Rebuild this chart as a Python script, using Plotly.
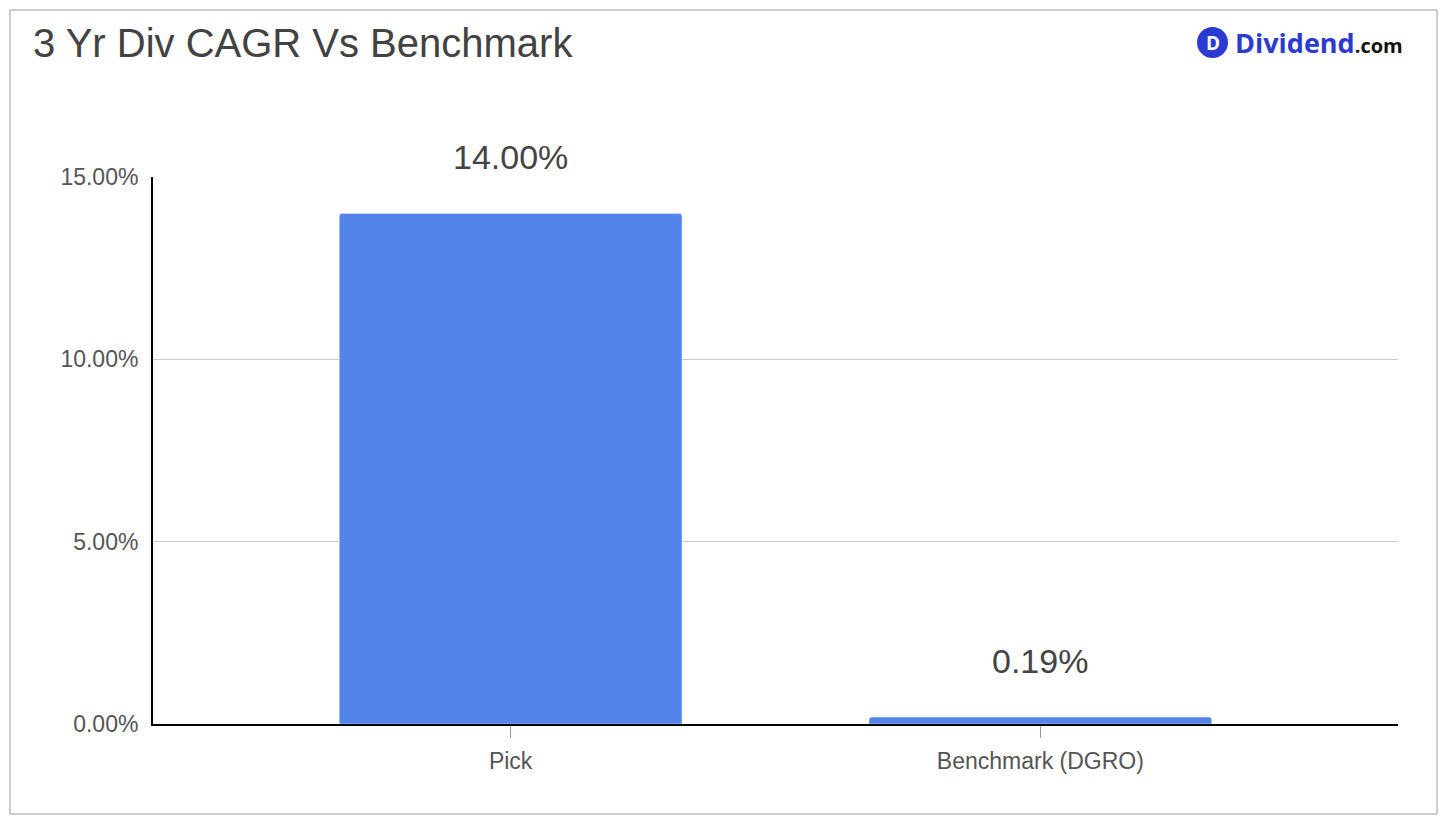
import plotly.graph_objects as go

# chart data
categories = ['Pick', 'Benchmark (DGRO)']
cagr_pct = [14.00, 0.19]
y_ticks = [0, 5, 10, 15]
y_tick_labels = ['0.00%', '5.00%', '10.00%', '15.00%']

# page puts the figure at (8, 8), so work in screen pixels and shift
OFF = 8
W, H = 1452 - 2 * OFF, 828 - 2 * OFF
plot_l, plot_r, plot_t, plot_b = 153, 1398, 177, 724
L, T = plot_l - OFF, plot_t - OFF
R, B = W - (plot_r - OFF), H - (plot_b - OFF)
pw, ph = plot_r - plot_l, plot_b - plot_t


def px(x):
    return (x - plot_l) / pw


def py(y):
    return (plot_b - y) / ph


bar_blue = '#5384ea'
logo_blue = '#2b3bd1'

fig = go.Figure()
fig.add_trace(go.Bar(x=categories, y=cagr_pct, marker=dict(color=bar_blue, cornerradius=3),
                     width=0.647, hoverinfo='skip'))

# value labels above bars
for c, v in zip(categories, cagr_pct):
    fig.add_annotation(x=c, y=v, text='%.2f%%' % v, showarrow=False, yshift=56,
                       font=dict(size=34, color='#444444'))

fig.update_layout(
    width=W, height=H, margin=dict(l=L, r=R, t=T, b=B),
    paper_bgcolor='white', plot_bgcolor='white', showlegend=False,
    font=dict(family='Liberation Sans, Arial, sans-serif'),
    xaxis=dict(range=[-0.675, 1.675], showline=True, linecolor='#000000', linewidth=2,
               ticks='outside', ticklen=12, tickcolor='#999999', tickwidth=1,
               tickfont=dict(size=23, color='#555555'), ticklabelstandoff=3),
    yaxis=dict(range=[0, 15], tickvals=y_ticks, ticktext=y_tick_labels,
               showline=True, linecolor='#000000', linewidth=2,
               gridcolor='#cccccc', gridwidth=1, zeroline=False,
               tickfont=dict(size=23, color='#555555'), ticklabelstandoff=8),
)

# outer border
fig.add_shape(type='rect', xref='paper', yref='paper', x0=px(10), x1=px(1437), y0=py(814), y1=py(10),
              line=dict(color='#9e9e9e', width=1), layer='below')

# title
fig.add_annotation(xref='paper', yref='paper', x=px(31), y=py(43), xanchor='left', yanchor='middle',
                   text='3 Yr Div CAGR Vs Benchmark', showarrow=False,
                   font=dict(size=40, color='#424242'))

# logo
fig.add_shape(type='circle', xref='paper', yref='paper', x0=px(1197), x1=px(1228), y0=py(58), y1=py(27),
              fillcolor=logo_blue, line=dict(color=logo_blue, width=0))
fig.add_annotation(xref='paper', yref='paper', x=px(1213), y=py(43), xanchor='center', yanchor='middle',
                   text='<b>D</b>', showarrow=False, font=dict(size=19, color='white', family='Open Sans'))
fig.add_annotation(xref='paper', yref='paper', x=px(1233), y=py(43), xanchor='left', yanchor='middle',
                   text="<b><span style='color:%s'>Dividend</span><span style='color:#111111;font-size:20px'>.com</span></b>" % logo_blue,
                   showarrow=False, font=dict(size=27, family='Open Sans'))

fig.write_html('out.html')
